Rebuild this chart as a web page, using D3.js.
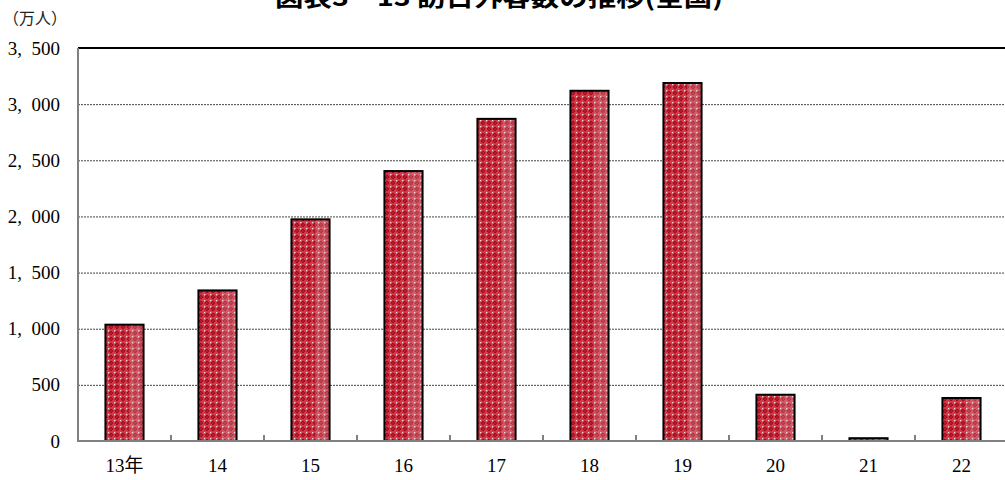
<!DOCTYPE html>
<html>
<head>
<meta charset="utf-8">
<script src="https://cdn.jsdelivr.net/npm/d3@7"></script>
<style>
  body { margin: 0; background: #fff; }
  svg { display: block; }
</style>
</head>
<body>
<script>
// Chart data
var years = ["13年", "14", "15", "16", "17", "18", "19", "20", "21", "22"];
var visitors = [1036, 1341, 1974, 2404, 2869, 3119, 3188, 412, 25, 383];
var yTicks = [0, 500, 1000, 1500, 2000, 2500, 3000, 3500];

var svgWidth = 1005;
var svgHeight = 480;

var margin = { top: 48, right: -3, bottom: 39, left: 78 };
var chartWidth = svgWidth - margin.left - margin.right;
var chartHeight = svgHeight - margin.top - margin.bottom;

var serif = "'Liberation Serif', 'DejaVu Serif', 'Noto Sans CJK JP', serif";

var svg = d3.select("body")
  .append("svg")
  .attr("width", svgWidth)
  .attr("height", svgHeight);

// red checker pattern for the bars
var defs = svg.append("defs");
var pat = defs.append("pattern")
  .attr("id", "check")
  .attr("width", 6)
  .attr("height", 6)
  .attr("patternUnits", "userSpaceOnUse");
pat.append("rect").attr("width", 6).attr("height", 6).attr("fill", "#d8384a");
pat.append("path").attr("d", "M3,0.5 L5.5,3 L3,5.5 L0.5,3 Z").attr("fill", "#9a0a18");
pat.append("rect").attr("x", 0).attr("y", 0).attr("width", 1.3).attr("height", 1.3).attr("fill", "#f6dde0");
pat.append("rect").attr("x", 2.5).attr("y", 2.5).attr("width", 1).attr("height", 1).attr("fill", "#e85a60");

var grad = defs.append("linearGradient")
  .attr("id", "shine")
  .attr("x1", 0).attr("x2", 1).attr("y1", 0).attr("y2", 0);
grad.append("stop").attr("offset", "0").attr("stop-color", "#fff").attr("stop-opacity", 0);
grad.append("stop").attr("offset", "0.62").attr("stop-color", "#fff").attr("stop-opacity", 0);
grad.append("stop").attr("offset", "0.64").attr("stop-color", "#e0d0d8").attr("stop-opacity", 0.22);
grad.append("stop").attr("offset", "1").attr("stop-color", "#e0d0d8").attr("stop-opacity", 0.22);

var chartGroup = svg.append("g")
  .attr("transform", `translate(${margin.left}, ${margin.top})`);

var xScale = d3.scaleBand()
  .domain(years)
  .range([0, chartWidth])
  .paddingInner(0.59)
  .paddingOuter(0.295);

var yScale = d3.scaleLinear()
  .domain([0, 3500])
  .range([chartHeight, 0]);

// gridlines
chartGroup.selectAll(".grid")
  .data(yTicks.filter(d => d > 0 && d < 3500))
  .enter()
  .append("line")
  .attr("x1", 0)
  .attr("x2", chartWidth)
  .attr("y1", d => yScale(d) + 0.5)
  .attr("y2", d => yScale(d) + 0.5)
  .attr("stroke", "#444")
  .attr("stroke-width", 1)
  .attr("stroke-dasharray", "2,1");

// top border
chartGroup.append("line")
  .attr("x1", 0).attr("x2", chartWidth)
  .attr("y1", yScale(3500)).attr("y2", yScale(3500))
  .attr("stroke", "#000")
  .attr("stroke-width", 2);

// bars
var bars = chartGroup.selectAll(".bar")
  .data(visitors)
  .enter()
  .append("g");

bars.append("rect")
  .attr("x", (d, i) => xScale(years[i]))
  .attr("y", d => yScale(d))
  .attr("width", xScale.bandwidth())
  .attr("height", d => chartHeight - yScale(d))
  .attr("fill", "url(#check)")
  .attr("stroke", "#000")
  .attr("stroke-width", 2);

bars.append("rect")
  .attr("x", (d, i) => xScale(years[i]) + 1)
  .attr("y", d => yScale(d) + 1)
  .attr("width", xScale.bandwidth() - 2)
  .attr("height", d => Math.max(0, chartHeight - yScale(d) - 1))
  .attr("fill", "url(#shine)");

// left axis
var leftAxis = d3.axisLeft(yScale)
  .tickValues(yTicks)
  .tickSize(0)
  .tickPadding(18)
  .tickFormat(d => d3.format(",")(d).replace(",", ",\u2002"));

var yAxisG = chartGroup.append("g").call(leftAxis);
yAxisG.select(".domain").remove();
yAxisG.selectAll("text")
  .attr("font-family", serif)
  .attr("font-size", 19)
  .attr("fill", "#000");

chartGroup.append("line")
  .attr("x1", 0).attr("x2", 0)
  .attr("y1", 0).attr("y2", chartHeight + 1)
  .attr("stroke", "#808080")
  .attr("stroke-width", 2);

// bottom axis
var bottomAxis = d3.axisBottom(xScale)
  .tickSize(0)
  .tickPadding(18);

var xAxisG = chartGroup.append("g")
  .attr("transform", `translate(0, ${chartHeight})`)
  .call(bottomAxis);
xAxisG.select(".domain").remove();
xAxisG.selectAll("text")
  .attr("font-family", serif)
  .attr("font-size", 19)
  .attr("fill", "#000");

chartGroup.append("line")
  .attr("x1", -1).attr("x2", chartWidth)
  .attr("y1", chartHeight).attr("y2", chartHeight)
  .attr("stroke", "#808080")
  .attr("stroke-width", 2);

// small ticks between categories
var step = xScale.step();
chartGroup.selectAll(".sep")
  .data(years.slice(1))
  .enter()
  .append("line")
  .attr("x1", d => xScale(d) - xScale.paddingInner() * step / 2)
  .attr("x2", d => xScale(d) - xScale.paddingInner() * step / 2)
  .attr("y1", chartHeight - 6)
  .attr("y2", chartHeight)
  .attr("stroke", "#808080")
  .attr("stroke-width", 2);

// unit label
svg.append("text")
  .attr("x", 3)
  .attr("y", 24)
  .attr("font-family", "'Noto Sans CJK JP', sans-serif")
  .attr("font-size", 16)
  .attr("fill", "#222")
  .text("（万人）");

// title (cut off at top, as in the source)
svg.append("text")
  .attr("x", 275)
  .attr("y", 6)
  .attr("font-family", "'Noto Sans CJK JP', sans-serif")
  .attr("font-weight", "bold")
  .attr("font-size", 24)
  .attr("textLength", 448)
  .attr("lengthAdjust", "spacingAndGlyphs")
  .attr("fill", "#000")
  .text("図表3－13 訪日外客数の推移(全国)");
</script>
</body>
</html>
